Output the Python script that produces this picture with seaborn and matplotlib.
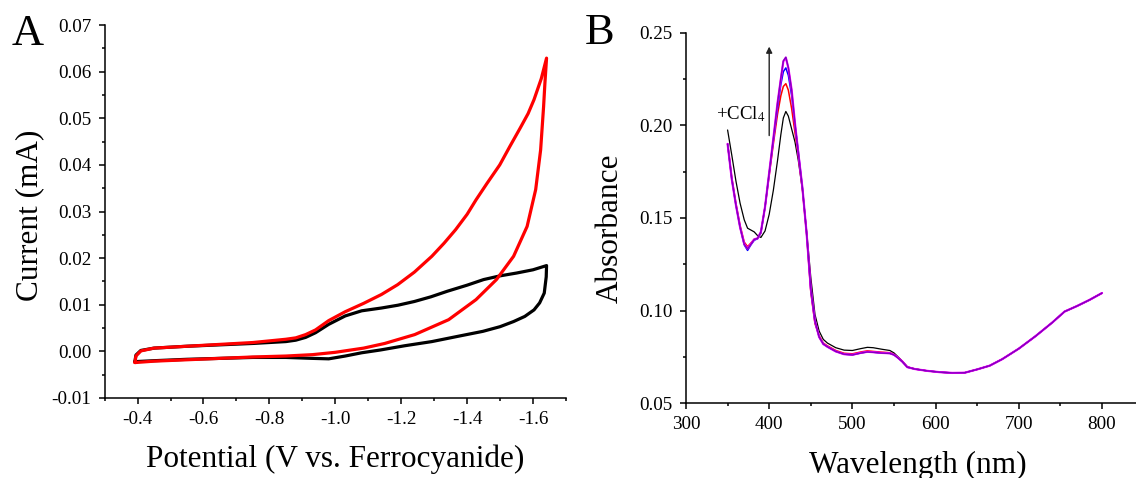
import numpy as np
import pandas as pd
import matplotlib
matplotlib.use("Agg")
import matplotlib.pyplot as plt
from matplotlib.ticker import MultipleLocator, FormatStrFormatter
import seaborn as sns

# ---------------- Panel A data: cyclic voltammograms ----------------
cv_black_potential = [-0.392, -0.395, -0.41, -0.45, -0.55, -0.65, -0.75, -0.85, -0.88, -0.91,
                      -0.94, -0.98, -1.03, -1.08, -1.14, -1.19, -1.24, -1.29, -1.34, -1.40,
                      -1.45, -1.50, -1.55, -1.60, -1.641,
                      -1.640, -1.634, -1.620, -1.603, -1.575, -1.541, -1.50, -1.448, -1.37, -1.293,
                      -1.21, -1.137, -1.08, -1.03, -0.98, -0.93, -0.85, -0.75, -0.65, -0.55,
                      -0.45, -0.392]
cv_black_current = [-0.0022, -0.0008, 0.0002, 0.0007, 0.0011, 0.0014, 0.0017, 0.0021, 0.0024, 0.0030,
                    0.0040, 0.0058, 0.0076, 0.0087, 0.0093, 0.0099, 0.0107, 0.0117, 0.0129, 0.0142,
                    0.0154, 0.0162, 0.0168, 0.0175, 0.0184,
                    0.0160, 0.0125, 0.0104, 0.0089, 0.0075, 0.0064, 0.0053, 0.0043, 0.0032, 0.0021,
                    0.0012, 0.0003, -0.0003, -0.0010, -0.0016, -0.0015, -0.0013, -0.0013, -0.0015, -0.0017,
                    -0.0020, -0.0022]

cv_red_potential = [-0.392, -0.395, -0.41, -0.45, -0.55, -0.65, -0.75, -0.85, -0.88, -0.91,
                    -0.94, -0.98, -1.03, -1.086, -1.14, -1.189, -1.24, -1.293, -1.33, -1.365,
                    -1.40, -1.427, -1.46, -1.499, -1.53, -1.561, -1.585, -1.603, -1.625, -1.641,
                    -1.636, -1.632, -1.623, -1.608, -1.582, -1.541, -1.489, -1.427, -1.344, -1.241,
                    -1.15, -1.086, -1.0, -0.931, -0.85, -0.75, -0.65, -0.55, -0.45, -0.392]
cv_red_current = [-0.0024, -0.0010, 0.0001, 0.0007, 0.0011, 0.0015, 0.0019, 0.0026, 0.0029, 0.0036,
                  0.0046, 0.0066, 0.0085, 0.0103, 0.0122, 0.0143, 0.0170, 0.0204, 0.0232, 0.0261,
                  0.0294, 0.0325, 0.0360, 0.0400, 0.0440, 0.0479, 0.0510, 0.0540, 0.0585, 0.0629,
                  0.0575, 0.0525, 0.0432, 0.0347, 0.0268, 0.0204, 0.0154, 0.0111, 0.0068, 0.0036,
                  0.0017, 0.0007, -0.0002, -0.0007, -0.0010, -0.0012, -0.0015, -0.0018, -0.0021, -0.0024]

# ---------------- Panel B data: UV-vis spectra ----------------
wavelength = [350, 355, 360, 365, 370, 374, 378, 382, 386, 390, 395, 400, 405, 410, 414, 417, 420,
              423, 427, 431, 435, 440, 445, 450, 455, 460, 465, 470, 480, 490, 500, 510, 518, 525,
              535, 545, 550, 555, 560, 566, 575, 590, 605, 620, 635, 650, 665, 680, 700, 720, 740,
              755, 770, 785, 800]

abs_black = [0.1975, 0.184, 0.170, 0.158, 0.149, 0.1445, 0.1435, 0.1425, 0.1405, 0.1395, 0.143,
             0.152, 0.165, 0.181, 0.195, 0.204, 0.2075, 0.205, 0.198, 0.191, 0.181, 0.165, 0.143,
             0.118, 0.098, 0.089, 0.0845, 0.0825, 0.0800, 0.0787, 0.0785, 0.0795, 0.0802, 0.0800,
             0.0792, 0.0785, 0.0772, 0.0750, 0.0728, 0.0697, 0.0686, 0.0675, 0.0668, 0.0664, 0.0665,
             0.0683, 0.0703, 0.0738, 0.0795, 0.0862, 0.0935, 0.0995, 0.1025, 0.1058, 0.1095]

abs_red = [0.190, 0.172, 0.158, 0.146, 0.1370, 0.1345, 0.1365, 0.1385, 0.1390, 0.1420, 0.156,
           0.173, 0.190, 0.206, 0.216, 0.221, 0.2225, 0.219, 0.209, 0.196, 0.184, 0.165, 0.141,
           0.110, 0.093, 0.0865, 0.0825, 0.0810, 0.0785, 0.0770, 0.0767, 0.0777, 0.0783, 0.0780,
           0.0776, 0.0773, 0.0764, 0.0746, 0.0726, 0.0696, 0.0685, 0.0675, 0.0668, 0.0664, 0.0665,
           0.0683, 0.0703, 0.0738, 0.0795, 0.0862, 0.0935, 0.0995, 0.1025, 0.1058, 0.1095]

abs_blue = [0.190, 0.171, 0.157, 0.145, 0.1355, 0.1325, 0.1355, 0.1380, 0.1388, 0.1420, 0.156,
            0.174, 0.192, 0.209, 0.222, 0.229, 0.231, 0.227, 0.216, 0.200, 0.186, 0.166, 0.1415,
            0.111, 0.094, 0.0858, 0.0820, 0.0805, 0.0780, 0.0765, 0.0762, 0.0772, 0.0778, 0.0776,
            0.0772, 0.0770, 0.0762, 0.0745, 0.0725, 0.0695, 0.0685, 0.0675, 0.0668, 0.0664, 0.0665,
            0.0683, 0.0703, 0.0738, 0.0795, 0.0862, 0.0935, 0.0995, 0.1025, 0.1058, 0.1095]

abs_magenta = [0.190, 0.171, 0.157, 0.145, 0.1360, 0.1335, 0.1360, 0.1385, 0.1390, 0.1425, 0.156,
               0.1745, 0.193, 0.212, 0.225, 0.2345, 0.2365, 0.231, 0.219, 0.201, 0.185, 0.166, 0.1415,
               0.112, 0.0945, 0.0858, 0.0820, 0.0805, 0.0780, 0.0765, 0.0762, 0.0772, 0.0778, 0.0776,
               0.0772, 0.0770, 0.0762, 0.0745, 0.0725, 0.0695, 0.0685, 0.0675, 0.0668, 0.0664, 0.0665,
               0.0683, 0.0703, 0.0738, 0.0795, 0.0862, 0.0935, 0.0995, 0.1025, 0.1058, 0.1095]

abs_purple = [0.190, 0.171, 0.157, 0.145, 0.1358, 0.1333, 0.1358, 0.1384, 0.1390, 0.1425, 0.156,
              0.1745, 0.193, 0.212, 0.2255, 0.2348, 0.2368, 0.2312, 0.219, 0.201, 0.185, 0.166, 0.1415,
              0.112, 0.0945, 0.0858, 0.0820, 0.0805, 0.0780, 0.0765, 0.0761, 0.0771, 0.0777, 0.0775,
              0.0771, 0.0769, 0.0761, 0.0744, 0.0724, 0.0695, 0.0685, 0.0675, 0.0668, 0.0664, 0.0665,
              0.0683, 0.0703, 0.0738, 0.0795, 0.0862, 0.0935, 0.0995, 0.1025, 0.1058, 0.1095]

trace_names = ["t0", "t1", "t2", "t3", "t4"]
trace_colors = ["#000000", "#FF0000", "#0000FF", "#FF00FF", "#8000C0"]
trace_widths = [0.9, 1.1, 1.1, 1.6, 1.0]

# ---------------- style ----------------
sns.set_theme(style="ticks")
plt.rcParams["font.family"] = ["Liberation Serif", "DejaVu Serif"]
plt.rcParams["mathtext.fontset"] = "stix"
plt.rcParams["axes.unicode_minus"] = False
for key in ("text.color", "axes.labelcolor", "xtick.color", "ytick.color",
            "xtick.labelcolor", "ytick.labelcolor", "axes.edgecolor"):
    plt.rcParams[key] = "black"

TICK_FS = 13.8
LABEL_FS = 22.5

fig = plt.figure(figsize=(11.36, 4.78), dpi=100)
W, H = 1136.0, 478.0

def frac_box(left, right, top, bottom):
    return [left / W, 1 - bottom / H, (right - left) / W, (bottom - top) / H]

axA = fig.add_axes(frac_box(104.6, 566.0, 25.0, 398.0))
axB = fig.add_axes(frac_box(686.0, 1143.6, 32.7, 403.3))

def style_axes(ax):
    for side in ("top", "right"):
        ax.spines[side].set_visible(False)
    for side in ("left", "bottom"):
        ax.spines[side].set_linewidth(1.1)
        ax.spines[side].set_color("black")
    ax.tick_params(which="major", direction="out", length=4.0, width=1.1, colors="black",
                   labelsize=TICK_FS, pad=5.5)
    ax.tick_params(which="minor", direction="out", length=2.2, width=1.1, colors="black")
    ax.grid(False)
    ax.set_facecolor("white")

# ---------------- Panel A ----------------
dfA = pd.concat([
    pd.DataFrame({"Potential": cv_black_potential, "Current": cv_black_current, "scan": "blank"}),
    pd.DataFrame({"Potential": cv_red_potential, "Current": cv_red_current, "scan": "CCl4"}),
], ignore_index=True)
sns.lineplot(data=dfA, x="Potential", y="Current", hue="scan", sort=False, estimator=None,
             palette={"blank": "#000000", "CCl4": "#FF0000"}, linewidth=2.3, legend=False, ax=axA)
for ln in axA.lines:
    ln.set_solid_joinstyle("round")
style_axes(axA)
axA.set_xlim(-0.3, -1.7)
axA.set_ylim(-0.01, 0.07)
axA.set_xticks([-0.4, -0.6, -0.8, -1.0, -1.2, -1.4, -1.6])
axA.xaxis.set_minor_locator(MultipleLocator(0.1))
axA.xaxis.set_major_formatter(FormatStrFormatter("%.1f"))
axA.yaxis.set_major_locator(MultipleLocator(0.01))
axA.yaxis.set_minor_locator(MultipleLocator(0.005))
axA.yaxis.set_major_formatter(FormatStrFormatter("%.2f"))
axA.set_xlabel("Potential (V vs. Ferrocyanide)", fontsize=LABEL_FS, color="black")
axA.set_ylabel("Current (mA)", fontsize=LABEL_FS, color="black")
axA.xaxis.set_label_coords(0.5, -0.125)
axA.yaxis.set_label_coords(-0.13, 0.49)

# ---------------- Panel B ----------------
frames = []
for name, vals in zip(trace_names, [abs_black, abs_red, abs_blue, abs_magenta, abs_purple]):
    frames.append(pd.DataFrame({"Wavelength": wavelength, "Absorbance": vals, "trace": name}))
dfB = pd.concat(frames, ignore_index=True)
for name, col, lw in zip(trace_names, trace_colors, trace_widths):
    sns.lineplot(data=dfB[dfB["trace"] == name], x="Wavelength", y="Absorbance",
                 color=col, linewidth=lw, sort=False, estimator=None, legend=False, ax=axB)
for ln in axB.lines:
    ln.set_solid_joinstyle("round")
style_axes(axB)
axB.set_xlim(300, 850)
axB.set_ylim(0.05, 0.25)
axB.set_xticks([300, 400, 500, 600, 700, 800])
axB.xaxis.set_minor_locator(MultipleLocator(50))
axB.yaxis.set_major_locator(MultipleLocator(0.05))
axB.yaxis.set_minor_locator(MultipleLocator(0.025))
axB.yaxis.set_major_formatter(FormatStrFormatter("%.2f"))
axB.set_xlabel("Wavelength (nm)", fontsize=LABEL_FS, color="black")
axB.set_ylabel("Absorbance", fontsize=LABEL_FS, color="black")
axB.xaxis.set_label_coords(0.507, -0.128)
axB.yaxis.set_label_coords(-0.133, 0.473)

axB.annotate("", xy=(400, 0.2425), xytext=(400, 0.1945),
             arrowprops=dict(arrowstyle="-|>", color="#222222", lw=1.0, mutation_scale=9,
                             shrinkA=0, shrinkB=0))
axB.text(336, 0.2030, "+CCl$_4$", fontsize=13.5, ha="left", va="baseline", color="black")

# ---------------- panel letters ----------------
fig.text(12.0 / W, 1 - 44.6 / H, "A", fontsize=32, ha="left", va="baseline", color="black")
fig.text(585.0 / W, 1 - 44.0 / H, "B", fontsize=32, ha="left", va="baseline", color="black")

fig.savefig("out.png", dpi=100, facecolor="white")
